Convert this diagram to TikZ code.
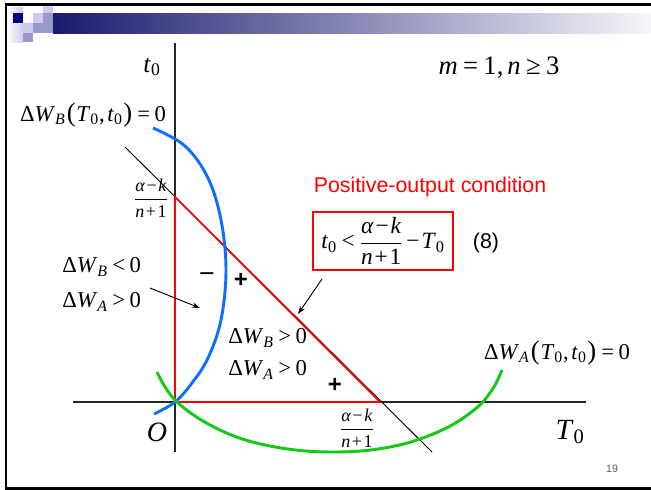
\documentclass[tikz,border=0pt]{standalone}
\usepackage{fontspec}
\setmainfont{Liberation Serif}
\newfontfamily\arialf{Liberation Sans}
\usetikzlibrary{arrows.meta}
\definecolor{navy}{RGB}{0,0,128}
\definecolor{barL}{RGB}{26,26,112}
\definecolor{barR}{RGB}{246,246,250}
\definecolor{lavL}{RGB}{204,204,234}
\definecolor{lavM}{RGB}{153,153,204}
\definecolor{cblue}{RGB}{16,110,255}
\definecolor{cgreen}{RGB}{20,200,20}
\definecolor{cred}{RGB}{255,0,0}
\newcommand{\mi}[1]{\textit{#1}}
\newcommand{\sbt}[1]{\textsubscript{#1}}
\newcommand{\op}[1]{\kern0.2em#1\kern0.2em}
\newcommand{\opn}[1]{\kern0.08em#1\kern0.08em}
\newcommand{\lp}{\kern0.06em{\fontsize{20}{20}\selectfont(}\kern0.03em}
\newcommand{\rp}{\kern0.03em{\fontsize{20}{20}\selectfont)}\kern0.02em}
\newcommand{\fr}[2]{$\displaystyle\frac{\mbox{#1}}{\mbox{#2}}$}
\begin{document}
\begin{tikzpicture}[x=0.75pt,y=-0.75pt,
  axis/.style={line width=0.8pt, black!85},
  tri/.style={draw=cred, line width=1.2pt},
  curveb/.style={draw=cblue, line width=2.2pt},
  curveg/.style={draw=cgreen, line width=2.2pt},
  mt/.style={inner sep=0pt, font=\fontsize{17}{20}\selectfont},
  smallfr/.style={inner sep=0pt, font=\fontsize{13.5}{16}\selectfont},
  sans/.style={inner sep=0pt, font=\arialf\fontsize{16}{19}\selectfont},
  pm/.style={inner sep=0pt, font=\arialf\bfseries\fontsize{18}{19}\selectfont},
  arr/.style={-{Stealth[length=6pt,width=4pt]}, line width=0.7pt}
]
\useasboundingbox (0,0) rectangle (651,490);
\fill[white] (0,0) rectangle (651,490);
% frame
\draw[line width=2pt] (5,4.5) -- (651,4.5);
\draw[line width=2pt] (6,3.5) -- (6,489);
\draw[line width=1.8pt] (5,488.5) -- (651,488.5);
% decoration
\shade[left color=white, right color=lavL] (7,7) rectangle (23,42);
\fill[navy] (13,13) rectangle (23,23);
\fill[lavL] (33,13) rectangle (43,23);
\fill[lavL] (43,6) rectangle (53,13);
\fill[lavM] (43,13) rectangle (53,23);
\fill[lavL] (23,23) rectangle (33,33);
\fill[lavM] (33,23) rectangle (43,33);
\fill[lavM] (43,23) rectangle (53,33);
\fill[lavM] (23,33) rectangle (33,42);
\shade[left color=barL, right color=barR] (53,13) rectangle (651,33);
% coordinates
\coordinate (ytop) at (175,43);
\coordinate (ybot) at (175,452);
\coordinate (xl) at (73,402);
\coordinate (xr) at (586,402);
\coordinate (O) at (175,402);
\coordinate (P) at (175,197);
\coordinate (Q) at (380,402);
\coordinate (d1) at (125,147);
\coordinate (d2) at (432,452);
% axes and diagonal
\draw[axis] (ytop) -- (ybot);
\draw[axis] (xl) -- (xr);
\draw[line width=0.7pt] (d1) -- (d2);
% triangle
\draw[tri] (P) -- (O) -- (Q) -- cycle;
% curves
\draw[curveb] plot[smooth, tension=0.6] coordinates {(153,128) (185,146) (208,178) (221,220) (226,270) (221,320) (208,358) (192,383) (175,402) (154,414)};
\draw[curveg] plot[smooth, tension=0.65] coordinates {(157,372) (177,402) (220,430) (270,446) (330,452) (390,447) (440,431) (474,410) (492,390) (502,370)};
% texts
\node[mt, font=\fontsize{19}{22}\selectfont] (tlab) at (152,67) {\mi{t}\sbt{0}};
\node[mt, font=\fontsize{20}{22}\selectfont] (mn) at (499,68) {\mi{m}\op{=}1,\kern0.15em\mi{n}\op{≥}3};
\node[mt] (wb) at (93,115) {Δ\mi{W}\sbt{\mi{B}}\lp\mi{T}\sbt{0},\kern0.12em\mi{t}\sbt{0}\rp\op{=}0};
\node[smallfr] (f1) at (151,198) {\fr{\mi{α}\opn{−}\mi{k}}{\mi{n}\opn{+}1}};
\node[sans, text=cred] (poc) at (430,187) {Positive-output condition};
\node[draw=cred, line width=0.8pt, minimum width=105pt, minimum height=43.5pt, inner sep=0pt, font=\fontsize{17.5}{19}\selectfont] (box) at (383,241) {\mi{t}\sbt{0}\kern0.2em<\kern0.2em\fr{\mi{α}\opn{−}\mi{k}}{\mi{n}\opn{+}1}\kern0.15em−\kern0.08em\mi{T}\sbt{0}};
\node[sans] (eq8) at (486,243) {(8)};
\node[mt, anchor=west] (wbneg) at (62,267) {Δ\mi{W}\sbt{\mi{B}}\op{<}0};
\node[mt, anchor=west] (waposl) at (62,302) {Δ\mi{W}\sbt{\mi{A}}\op{>}0};
\node[pm, font=\arialf\fontsize{20}{19}\selectfont] (minus) at (207,278) {−};
\node[pm] (plus1) at (241,280) {+};
\node[mt, anchor=west] (wbpos) at (228,338) {Δ\mi{W}\sbt{\mi{B}}\op{>}0};
\node[mt, anchor=west] (waposr) at (228,370) {Δ\mi{W}\sbt{\mi{A}}\op{>}0};
\node[pm] (plus2) at (335,385) {+};
\node[mt] (wa) at (557,353) {Δ\mi{W}\sbt{\mi{A}}\lp\mi{T}\sbt{0},\kern0.12em\mi{t}\sbt{0}\rp\op{=}0};
\node[smallfr] (f2) at (357,428) {\fr{\mi{α}\opn{−}\mi{k}}{\mi{n}\opn{+}1}};
\node[mt, font=\fontsize{21}{24}\selectfont] (olab) at (157,432) {\mi{O}};
\node[mt, font=\fontsize{22}{24}\selectfont] (T0) at (570,432) {\mi{T}\sbt{0}};
\node[inner sep=0pt, text=black!65, font=\arialf\fontsize{8}{9}\selectfont] (pg) at (612,469) {19};
% arrows
\coordinate (a1s) at (150,288);
\coordinate (a1e) at (200,308);
\coordinate (a2s) at (322,279);
\coordinate (a2e) at (298,314);
\draw[arr] (a1s) -- (a1e);
\draw[arr] (a2s) -- (a2e);
\end{tikzpicture}
\end{document}
